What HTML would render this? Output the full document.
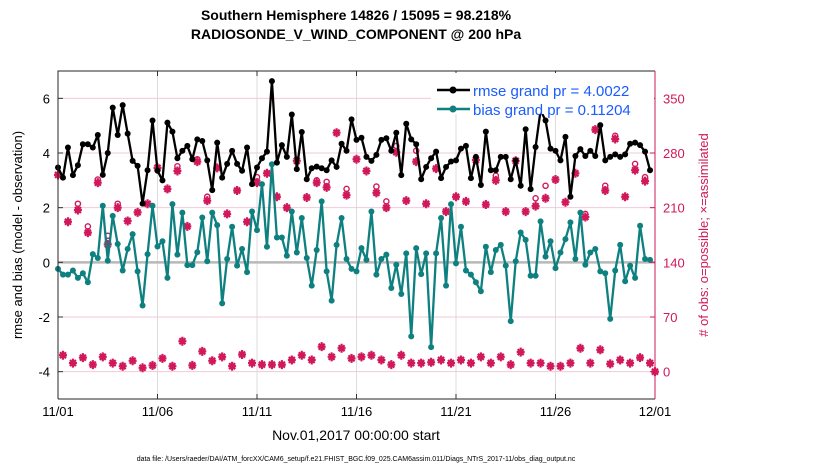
<!DOCTYPE html>
<html><head><meta charset="utf-8"><style>
body{margin:0;background:#fff;width:830px;height:470px;overflow:hidden}
svg{font-family:"Liberation Sans",sans-serif}
</style></head><body>
<svg id="chart" width="830" height="470" xmlns="http://www.w3.org/2000/svg">
<text x="356" y="20" text-anchor="middle" font-size="14" font-weight="bold">Southern Hemisphere 14826 / 15095 = 98.218%</text>
<text x="356" y="39" text-anchor="middle" font-size="14" font-weight="bold">RADIOSONDE_V_WIND_COMPONENT @ 200 hPa</text>
<g id="grid"></g><g id="marks"></g><g id="axes"></g>
<text transform="translate(22,235) rotate(-90)" text-anchor="middle" font-size="13">rmse and bias (model - observation)</text>
<text transform="translate(708,235) rotate(-90)" text-anchor="middle" font-size="13" fill="#d0185a"># of obs: o=possible; ×=assimilated</text>
<text x="356" y="440" text-anchor="middle" font-size="14">Nov.01,2017 00:00:00 start</text>
<text x="356" y="461" text-anchor="middle" font-size="7">data file: /Users/raeder/DAI/ATM_forcXX/CAM6_setup/f.e21.FHIST_BGC.f09_025.CAM6assim.011/Diags_NTrS_2017-11/obs_diag_output.nc</text>
<g>
<rect x="431" y="73" width="223" height="41" fill="#fff"/>
<line x1="437" y1="90" x2="470" y2="90" stroke="#000" stroke-width="2.5"/><circle cx="453" cy="90" r="3.5" fill="#000"/>
<text x="473" y="96" font-size="15" fill="#1a5cff">rmse grand pr = 4.0022</text>
<line x1="437" y1="109" x2="470" y2="109" stroke="#0f8080" stroke-width="2.5"/><circle cx="453" cy="109" r="3.5" fill="#0f8080"/>
<text x="473" y="115" font-size="15" fill="#1a5cff">bias grand pr = 0.11204</text>
</g>
</svg>
<script>
const rmse=[3.47,3.1,4.2,3.19,3.55,4.32,4.32,4.2,4.66,3.2,4.0,5.66,4.66,5.75,4.71,3.71,3.53,2.15,3.37,5.19,3.35,3.0,5.11,4.78,3.81,4.08,4.26,3.77,4.5,4.44,3.73,2.64,4.38,3.1,3.6,4.08,3.6,3.35,4.2,2.86,3.47,
3.81,4.05,6.63,3.65,4.29,3.86,5.41,3.41,4.77,3.04,3.44,3.5,3.44,3.37,3.73,3.49,4.34,4.08,5.23,4.48,4.56,3.86,3.71,3.93,4.48,4.54,4.08,4.74,3.19,5.07,4.5,4.32,3.04,3.49,3.81,4.05,3.08,3.49,3.69,3.73,
4.16,4.26,3.08,3.86,2.83,4.78,3.37,3.37,3.86,3.86,3.04,3.73,2.8,4.87,2.68,4.22,5.56,5.19,4.16,4.08,3.73,4.59,2.4,3.89,4.14,3.89,4.08,3.89,5.02,3.73,3.86,3.95,3.86,3.95,4.34,4.38,4.29,4.05,3.37];
const bias=[-0.24,-0.45,-0.45,-0.30,-0.57,-0.40,-0.73,0.30,0.16,2.07,0.06,1.70,0.67,-0.30,0.49,1.03,-0.33,-1.58,0.30,2.07,0.58,0.77,-0.57,2.13,0.28,1.82,-0.10,-0.10,0.37,1.64,0.04,1.82,1.36,-1.50,0.12,1.30,-0.12,0.49,-0.36,1.86,1.18,
2.86,0.57,3.59,0.91,0.91,0.24,1.86,0.36,1.62,0.16,-0.85,0.45,2.23,-0.33,-1.40,0.64,1.62,0.12,-0.24,-0.33,0.52,0.09,1.86,-0.45,0.12,0.28,-0.94,-0.09,-1.16,0.33,-2.71,0.52,-0.43,0.33,-3.1,0.33,1.62,-0.85,2.13,-0.04,
1.30,-0.30,-0.45,-0.73,-1.06,0.57,-0.36,0.45,0.64,-0.12,-2.15,0.04,1.09,0.82,-0.49,-0.49,1.50,0.21,0.77,-0.21,0.36,0.85,1.46,0.12,1.82,-0.09,0.36,0.49,-0.33,-0.40,-2.07,-0.30,0.64,-0.69,-0.12,-0.57,1.34,0.12,0.09];
const assimUpper=[252,192,207,178,242,163,210,193,204,215,261,234,257,186,269,219,261,202,232,192,242,
254,224,210,270,223,242,236,306,226,272,257,229,210,281,219,269,215,260,205,224,
218,271,214,245,205,270,205,212,222,246,217,254,198,310,232,298,224,258,244];
const possUpper=[252,192,215,186,246,174,215,193,204,215,261,234,263,186,272,224,261,202,232,192,249,
254,224,210,270,223,245,243,306,234,272,257,237,218,289,219,283,215,260,205,224,
218,271,214,251,205,270,205,222,238,246,217,254,202,310,238,302,224,266,249];
const assimLower=[21,11,18,9,19,11,7,14,5,8,17,7,39,8,26,14,19,7,22,11,
9,9,9,15,21,15,32,19,30,17,19,21,15,9,21,11,11,12,15,11,
15,11,19,11,19,9,25,11,11,7,7,11,30,11,28,10,15,11,18,11,0];
const leftTicks=[-4,-2,0,2,4,6];
const rightTicks=[0,70,140,210,280,350];
const xTickDays=[0,5,10,15,20,25,30];
const xTickLabels=["11/01","11/06","11/11","11/16","11/21","11/26","12/01"];

const NS="http://www.w3.org/2000/svg";
const L=58,R=655,T=71,B=399;
const xs=d=>L+(R-L)*d/30;
const yl=v=>B-(B-T)*(v+5)/12;
const yr=v=>yl((v-140)/35);
function mk(tag,attrs,parent){const e=document.createElementNS(NS,tag);for(const k in attrs)e.setAttribute(k,attrs[k]);parent.appendChild(e);return e;}
const grid=document.getElementById('grid'),marks=document.getElementById('marks'),axes=document.getElementById('axes');
mk('rect',{x:L,y:T,width:R-L,height:B-T,fill:'#fff'},grid);
xTickDays.forEach((d,i)=>{
  const g=mk('line',{x1:xs(d),x2:xs(d),y1:T,y2:B,stroke:'#dcdcdc','stroke-width':1},grid);
  
  
  const t=mk('text',{x:xs(d),y:B+17,'text-anchor':'middle','font-size':13},axes);t.textContent=xTickLabels[i];
  
  
  mk('line',{x1:xs(d),x2:xs(d),y1:B,y2:B-5,stroke:'#333'},axes);
  mk('line',{x1:xs(d),x2:xs(d),y1:T,y2:T+5,stroke:'#333'},axes);
});
rightTicks.forEach(v=>{
  const g=mk('line',{x1:L,x2:R,y1:yr(v),y2:yr(v),stroke:'#f2c8d8','stroke-width':1},grid);
  
  
  const t=mk('text',{x:R+8,y:yr(v)+5,'font-size':13,fill:'#d0185a'},axes);t.textContent=v;
  
  
  mk('line',{x1:R,x2:R-5,y1:yr(v),y2:yr(v),stroke:'#d0185a'},axes);
});
leftTicks.forEach(v=>{
  const t=mk('text',{x:L-8,y:yl(v)+5,'font-size':13,'text-anchor':'end'},axes);t.textContent=v;
  
  
  mk('line',{x1:L,x2:L+5,y1:yl(v),y2:yl(v),stroke:'#333'},axes);
});
mk('line',{x1:L,x2:R,y1:yl(0),y2:yl(0),stroke:'#b8b8b8','stroke-width':2.5},grid);
mk('path',{d:`M${L},${B}V${T}H${R}`,fill:'none',stroke:'#262626','stroke-width':1},axes);
mk('line',{x1:L,x2:R,y1:B,y2:B,stroke:'#262626'},axes);
mk('line',{x1:R,x2:R,y1:T,y2:B,stroke:'#d0185a'},axes);

function star(x,y,name){
  const g=mk('g',{},marks);
  
  
  mk('path',{d:`M${x-4},${y}H${x+4}M${x},${y-4.5}V${y+4.5}M${x-3},${y-3}L${x+3},${y+3}M${x-3},${y+3}L${x+3},${y-3}`,stroke:'#d0185a','stroke-width':2.2},g);
  mk('circle',{cx:x,cy:y,r:2.2,fill:'#d0185a'},g);
}
possUpper.forEach((v,i)=>{
  if(v!==assimUpper[i]){const c=mk('circle',{cx:xs(i*0.5),cy:yr(v),r:2.6,fill:'none',stroke:'#d0185a','stroke-width':1.4},marks);
  
  }
});
assimUpper.forEach((v,i)=>star(xs(i*0.5),yr(v),'assimilated-obs-marker'));
assimLower.forEach((v,i)=>star(xs(Math.min(30,0.25+i*0.5)),yr(v),'assimilated-obs-marker-lower'));
function series(arr,color,name){
  const p=mk('polyline',{points:arr.map((v,i)=>xs(i*0.25)+','+yl(v)).join(' '),fill:'none',stroke:color,'stroke-width':2.3,'stroke-linejoin':'round'},marks);
  
  
  arr.forEach((v,i)=>{const c=mk('circle',{cx:xs(i*0.25),cy:yl(v),r:3,fill:color},marks);
    
    });
}
series(bias,'#0f8080','bias');
series(rmse,'#000','rmse');
</script>
</body></html>
